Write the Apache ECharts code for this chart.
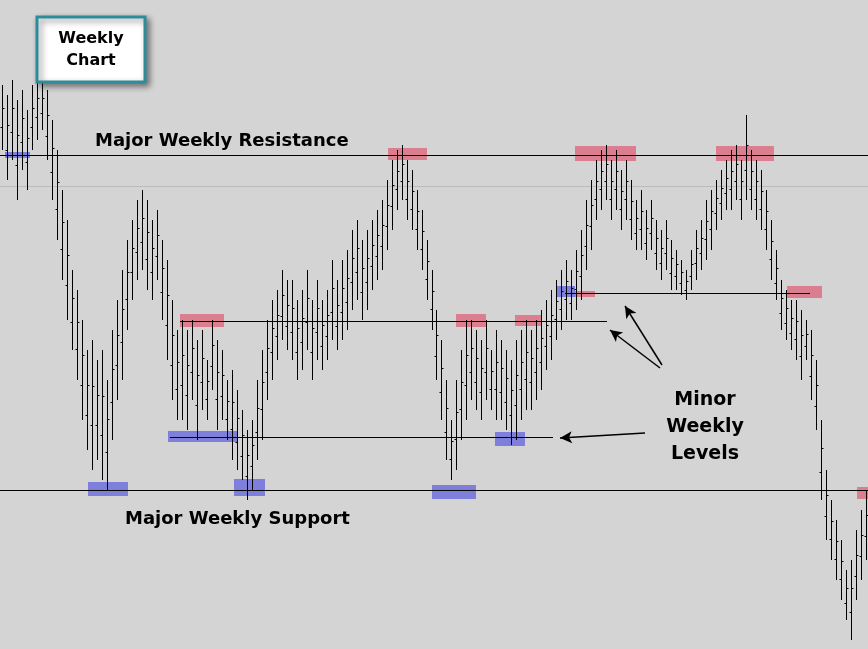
<!DOCTYPE html>
<html><head><meta charset="utf-8">
<script src="https://cdn.jsdelivr.net/npm/echarts@6/dist/echarts.min.js"></script>
<style>html,body{margin:0;padding:0;background:#d4d4d4}#c{width:868px;height:649px}</style>
</head><body><div id="c"></div>
<script>
// price expressed in screen-like units (larger = lower on chart)
const highs = [85,95,80,100,90,110,85,75,80,90,
 120,150,190,220,270,290,320,350,
 340,360,350,380,
 330,300,270,240,220,200,
 190,200,220,210,240,
 260,300,330,
 320,330,320,340,330,360,320,340,350,380,370,
 390,410,430,420,
 380,350,320,300,290,270,280,
 280,300,290,270,300,280,300,290,260,280,
 260,250,230,220,240,230,220,
 210,200,180,160,150,145,
 160,170,190,210,240,270,
 310,340,380,420,
 380,350,320,
 320,330,340,320,350,330,
 340,350,360,340,330,320,
 330,320,310,300,290,280,270,260,
 270,250,230,200,180,160,
 150,145,160,150,170,160,180,200,
 190,210,200,220,230,220,240,250,260,270,
 250,230,220,200,190,180,170,160,
 150,145,160,115,150,160,170,
 190,220,250,280,290,300,
 300,310,320,330,360,
 420,470,500,520,540,570,
 560,530,510,490];
const lows = [150,180,160,200,170,190,150,140,130,160,
 200,240,280,320,350,380,420,450,
 470,460,480,490,
 440,400,380,330,300,280,
 270,290,300,280,320,
 360,400,420,
 420,430,400,440,410,420,390,430,420,440,460,
 470,480,500,490,
 460,440,400,380,360,340,350,
 360,380,370,350,380,360,370,360,340,350,
 340,330,310,300,320,310,290,
 280,270,250,230,210,200,
 220,230,250,270,300,330,
 380,420,460,480,
 470,440,420,
 400,410,420,400,410,420,
 420,430,445,440,420,410,
 410,400,390,370,360,340,330,320,
 320,310,300,270,250,220,
 210,200,220,210,230,220,240,250,
 250,260,250,270,280,270,290,290,295,300,
 290,280,270,260,250,230,220,210,
 210,200,220,200,210,220,230,
 250,280,300,330,340,350,
 360,380,360,400,430,
 500,540,560,580,600,620,
 640,600,580,560];
const STEP = 868 / highs.length;
const px = v => v / STEP;
const redBoxes = [[388,427,148,160],[575,636,146,161],[716,774,146,161],[180,224,314,327],[456,486,314,327],[515,542,315,326],[575,595,291,297],[787,822,286,298],[857,868,487,499]];
const blueBoxes = [[5,30,152,158],[88,128,482,496],[234,265,479,496],[432,476,485,499],[168,238,431,442],[495,525,432,446],[556,575,286,297]];
const levels = [[0,868,155,'#000'],[0,868,186,'#bbb'],[0,868,490,'#000'],[180,607,321,'#000'],[170,553,437,'#000'],[565,810,293,'#000']];
const arrows = [[662,365,625,306],[660,368,610,330],[645,433,560,438]];

const chart = echarts.init(document.getElementById('c'));
const data = highs.map((h,i)=>[i+0.5,h,lows[i]]);
const area = (b,c)=>[{coord:[px(b[0]),b[2]],itemStyle:{color:c}},{coord:[px(b[1]),b[3]]}];
chart.setOption({
 backgroundColor:'#d4d4d4',
 animation:false,
 grid:{left:0,right:0,top:0,bottom:0},
 xAxis:{type:'value',min:0,max:highs.length,show:false},
 yAxis:{type:'value',min:0,max:649,inverse:true,show:false},
 series:[
  {type:'line',data:[],silent:true,
   markLine:{silent:true,symbol:['none','none'],label:{show:false},
    data:levels.map(l=>[{coord:[px(l[0]),l[2]],lineStyle:{color:l[3],width:1,type:'solid'}},{coord:[px(l[1]),l[2]]}])},
   markArea:{silent:true,data:redBoxes.map(b=>area(b,'rgba(220,110,130,0.85)')).concat(blueBoxes.map(b=>area(b,'rgba(110,110,220,0.85)')))}
  },
  {type:'custom',data:data,z:5,renderItem:(p,api)=>{
    const x=api.value(0),h=api.value(1),l=api.value(2);
    const a=api.coord([x,h]),b=api.coord([x,l]);
    const xx=Math.round(a[0])+0.5;
    const o=Math.round(api.coord([x,h+(l-h)*0.65])[1])+0.5,c=Math.round(api.coord([x,h+(l-h)*0.35])[1])+0.5;
    const st={stroke:'#000',lineWidth:1};
    return {type:'group',children:[
     {type:'line',shape:{x1:xx,y1:Math.round(a[1]),x2:xx,y2:Math.round(b[1])},style:st},
     {type:'line',shape:{x1:xx-2,y1:o,x2:xx,y2:o},style:st},
     {type:'line',shape:{x1:xx,y1:c,x2:xx+2,y2:c},style:st}]};
  }},
  {type:'line',data:[],silent:true,z:6,
   markLine:{silent:true,symbol:['none','arrow'],symbolSize:[9,12],label:{show:false},
    lineStyle:{color:'#000',width:1.5,type:'solid'},
    data:arrows.map(a=>[{coord:[px(a[0]),a[1]]},{coord:[px(a[2]),a[3]]}])}}
 ],
 graphic:[
  {type:'rect',shape:{x:37,y:17,width:108,height:65},style:{fill:'#fff',stroke:'#2e8b9a',lineWidth:3,shadowBlur:6,shadowOffsetX:3,shadowOffsetY:3,shadowColor:'rgba(0,0,0,0.45)'},z:11},
  {type:'text',x:91,y:50,z:12,style:{text:'Weekly\nChart',font:'bold 16px "DejaVu Sans"',fill:'#000',align:'center',verticalAlign:'middle',lineHeight:22}},
  {type:'text',x:95,y:141,z:12,style:{text:'Major Weekly Resistance',font:'bold 18px "DejaVu Sans"',fill:'#000',verticalAlign:'middle'}},
  {type:'text',x:125,y:519,z:12,style:{text:'Major Weekly Support',font:'bold 18px "DejaVu Sans"',fill:'#000',verticalAlign:'middle'}},
  {type:'text',x:705,y:427,z:12,style:{text:'Minor\nWeekly\nLevels',font:'bold 19px "DejaVu Sans"',fill:'#000',align:'center',verticalAlign:'middle',lineHeight:27}}
 ]
});
</script></body></html>
